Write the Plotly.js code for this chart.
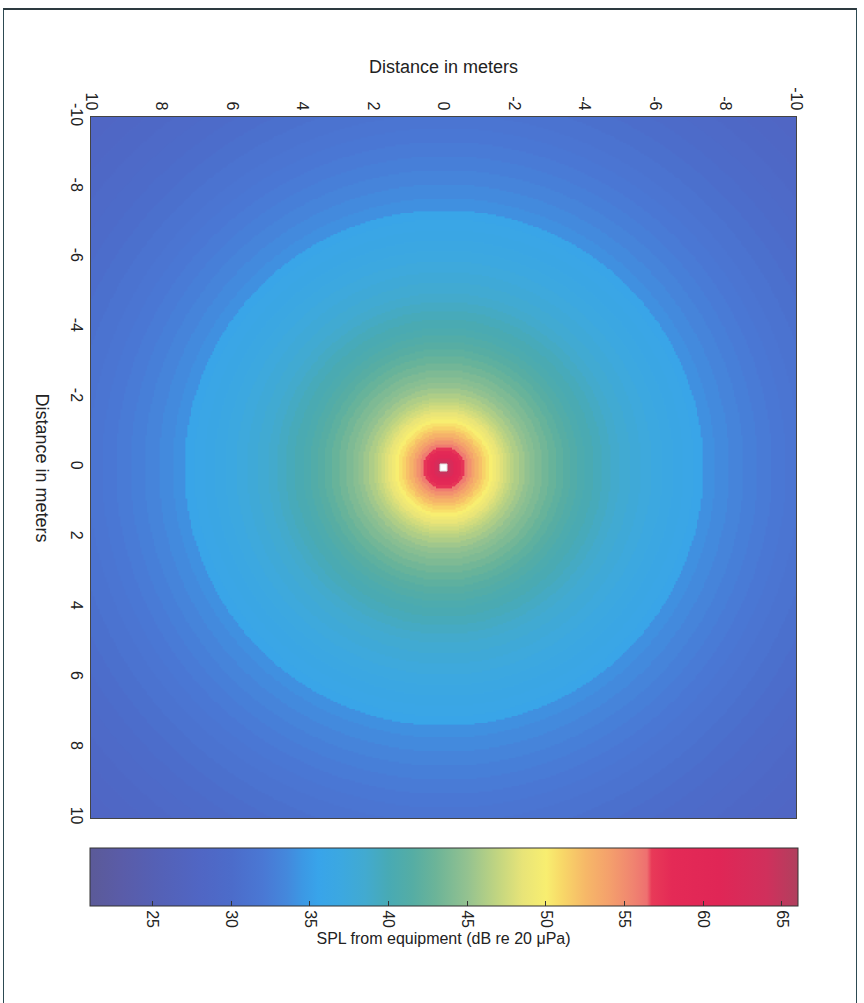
<!DOCTYPE html>
<html>
<head>
<meta charset="utf-8">
<script src="https://cdn.plot.ly/plotly-3.0.1.min.js"></script>
<style>
  html, body { margin: 0; padding: 0; background: #ffffff; }
  #chart { width: 864px; height: 1003px; }
  #frame { position: absolute; left: 3px; top: 8px; width: 852px; height: 1000px;
           border-left: 1.5px solid #2d4a52; border-right: 1.5px solid #2d4a52; border-top: 2px solid #2d3a40;
           pointer-events: none; }
</style>
</head>
<body>
<div id="chart"></div>
<div id="frame"></div>
<script>
// Radial SPL profile (distance from source in m -> dB re 20 µPa)
const radiusM = [0, 0.1, 0.2, 0.3, 0.4, 0.5, 0.6, 0.7, 0.8, 0.9, 1.0, 1.1, 1.2, 1.3, 1.4, 1.5, 1.6, 1.7, 1.8, 1.9,
                 2.0, 2.15, 2.3, 2.45, 2.6, 2.8, 3.0, 3.2, 3.4, 3.6, 3.8, 4.0, 4.25, 4.5, 4.75, 5.0, 5.3, 5.6, 5.9, 6.2,
                 6.5, 6.8, 7.1, 7.35, 7.7, 8.1, 8.5, 8.9, 9.3, 9.7, 10.1, 10.6, 11.1, 11.6, 12.1, 12.6, 13.1, 13.6];
const splDb   = [66, 64.5, 62.5, 60.6, 59.0, 57.2, 55.8, 54.8, 53.8, 52.9, 52.1, 51.3, 50.6, 50, 49.3, 48.7, 48.1, 47.6, 47.1, 46.6,
                 46.1, 45.5, 44.9, 44.4, 43.9, 43.3, 42.7, 42.1, 41.6, 41.1, 40.6, 40.2, 39.7, 39.2, 38.7, 38.3, 37.8, 37.4, 37.0, 36.7,
                 36.4, 36.1, 35.8, 34.0, 33.6, 33.1, 32.7, 32.3, 31.9, 31.5, 31.1, 30.6, 30.1, 29.6, 29.2, 28.8, 28.4, 28.0];

// Grid positions (m) and axis ticks
const gridPos = [];
for (let i = -200; i <= 200; i++) gridPos.push(i / 20);
const tickVals = [-10, -8, -6, -4, -2, 0, 2, 4, 6, 8, 10];
const cbTicks = [25, 30, 35, 40, 45, 50, 55, 60, 65];
const cbRange = [21, 66];
const sourceX = [0], sourceY = [0];

// Colour scale (dB -> colour)
const csDb = [21, 23, 25, 28, 30, 32, 33.5, 34.5, 35.5, 37, 38.5, 40, 41.5, 43, 45, 47, 48.5, 50, 51, 52.5, 54, 55.5, 56.4, 56.7, 58, 61, 64, 66];
const csColor = ['#5b5a98', '#5a5ca8', '#5560b4', '#5066c4', '#4c6cca', '#4a78d4', '#4488dc', '#3c98e4', '#38a4ea', '#3ca8e0',
                 '#42aad0', '#48aab4', '#55ada4', '#6cb498', '#94c290', '#c4d680', '#e8e478', '#f8ee70', '#f8d868', '#f6b868',
                 '#f4a06c', '#f08470', '#ee7070', '#e83a58', '#e42a56', '#e02656', '#d0305c', '#b0405e'];
const colorscale = csDb.map((v, i) => [(v - cbRange[0]) / (cbRange[1] - cbRange[0]), csColor[i]]);

function lookup(r) {
  let k = 0;
  for (let i = 0; i < radiusM.length; i++) { if (radiusM[i] <= r) k = i; else break; }
  return splDb[k];
}
const z = gridPos.map(yy => gridPos.map(xx => lookup(Math.hypot(xx, yy))));

const fontFam = '"Liberation Sans", Arial, sans-serif';

const traces = [
  {
    type: 'heatmap', x: gridPos, y: gridPos, z: z, zmin: cbRange[0], zmax: cbRange[1],
    colorscale: colorscale, zsmooth: 'best', hoverinfo: 'skip',
    colorbar: {
      orientation: 'h', x: 0.5, xanchor: 'center', lenmode: 'pixels', len: 708,
      thicknessmode: 'pixels', thickness: 58, y: -0.0428, yanchor: 'top', ypad: 0, xpad: 0,
      outlinewidth: 1, outlinecolor: '#333',
      tickvals: cbTicks, ticktext: cbTicks.map(String), ticks: 'inside', ticklen: 5, tickcolor: '#333',
      tickangle: 90, tickfont: { family: fontFam, size: 16, color: '#222' },
      title: { text: 'SPL from equipment (dB re 20 μPa)', side: 'bottom', font: { family: fontFam, size: 16, color: '#222' } }
    }
  },
  {
    type: 'scatter', mode: 'markers', x: sourceX, y: sourceY, hoverinfo: 'skip', showlegend: false,
    marker: { symbol: 'square', size: 7, color: '#ffffff', line: { color: '#dddddd', width: 1 } }
  }
];

const layout = {
  width: 864, height: 1003,
  margin: { l: 91, r: 68, t: 117, b: 185 },
  paper_bgcolor: '#ffffff', plot_bgcolor: '#ffffff',
  showlegend: false,
  font: { family: fontFam, color: '#222' },
  xaxis: {
    side: 'top', range: [10, -10], tickvals: tickVals, ticktext: tickVals.map(String), tickangle: 90,
    ticks: '', showgrid: false, zeroline: false, showline: true, linecolor: '#444', linewidth: 1, mirror: true,
    tickfont: { family: fontFam, size: 16, color: '#222' },
    title: { text: 'Distance in meters', font: { family: fontFam, size: 18, color: '#222' }, standoff: 8 }
  },
  yaxis: {
    range: [10, -10], tickvals: tickVals, ticktext: tickVals.map(String), tickangle: 90,
    ticks: '', showgrid: false, zeroline: false, showline: true, linecolor: '#444', linewidth: 1, mirror: true,
    tickfont: { family: fontFam, size: 16, color: '#222' }
  },
  annotations: [
    { text: 'Distance in meters', xref: 'paper', yref: 'paper', x: -0.0695, y: 0.5, xanchor: 'center', yanchor: 'middle',
      textangle: 90, showarrow: false, font: { family: fontFam, size: 18, color: '#222' } }
  ]
};

Plotly.newPlot('chart', traces, layout, { displayModeBar: false, staticPlot: true });
</script>
</body>
</html>
